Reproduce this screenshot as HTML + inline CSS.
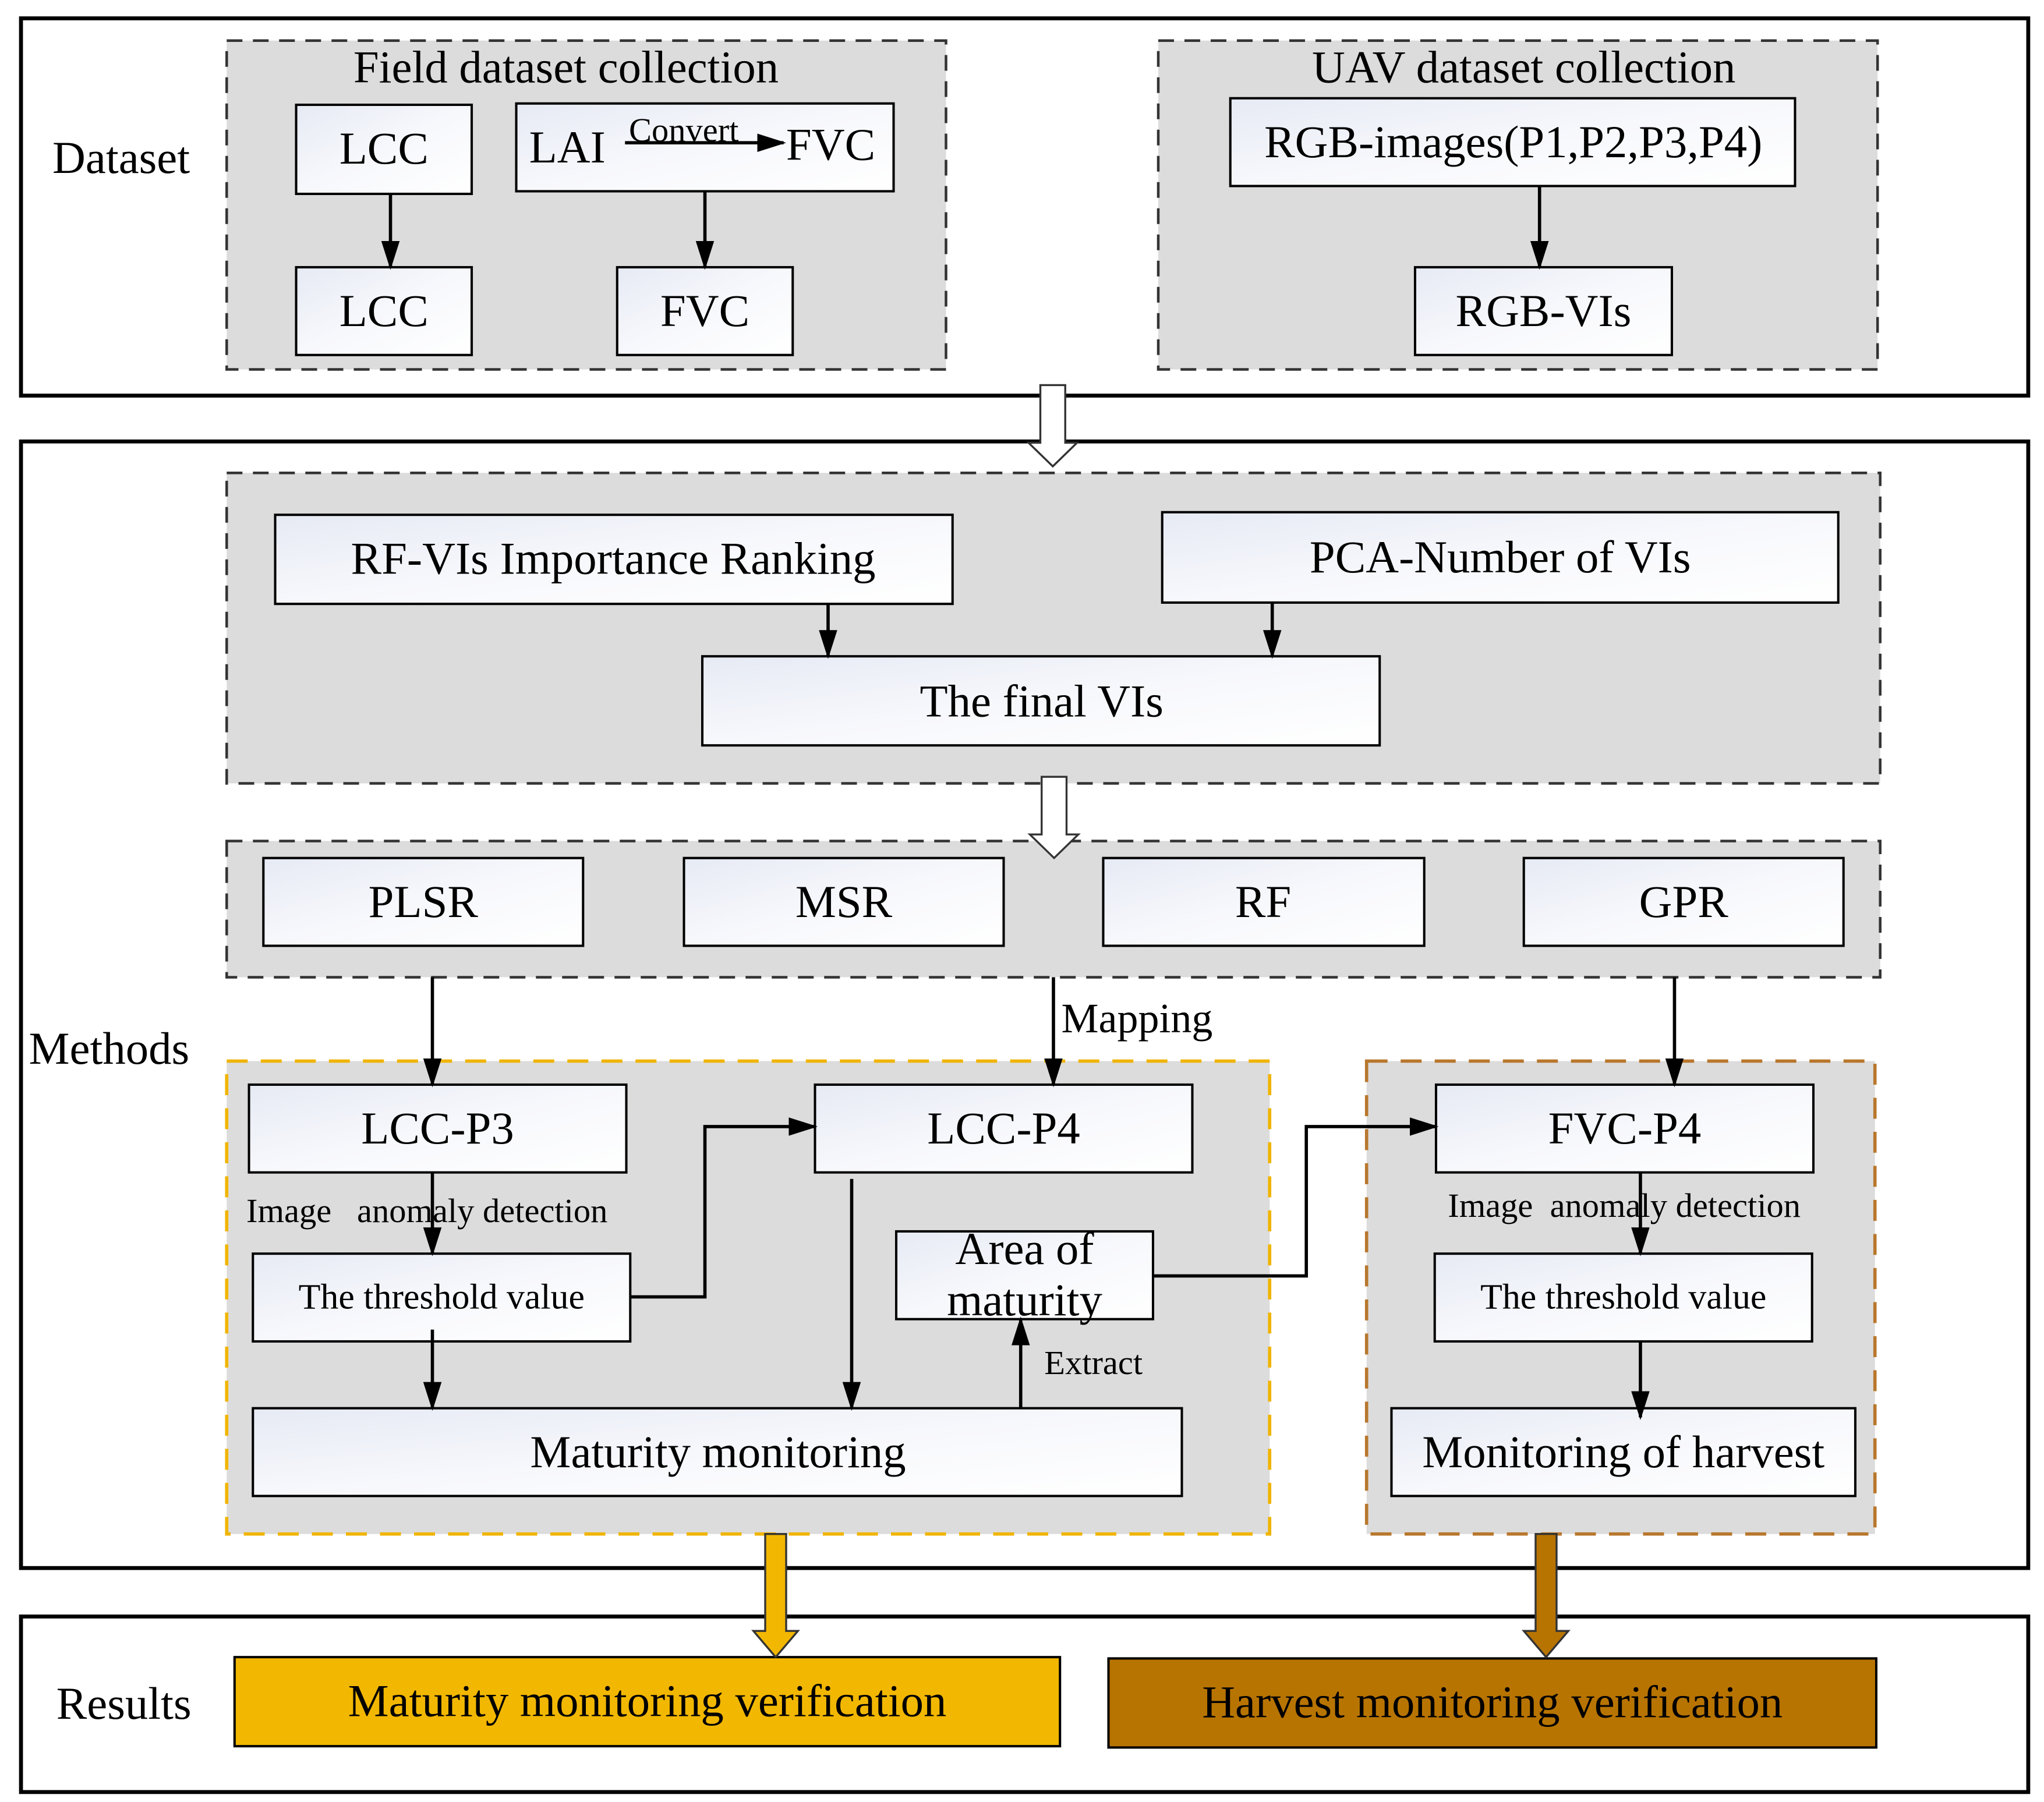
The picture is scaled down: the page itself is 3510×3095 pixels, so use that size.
<!DOCTYPE html>
<html><head><meta charset="utf-8"><style>html,body{margin:0;padding:0;background:#fff}svg{display:block}</style></head>
<body>
<svg xmlns="http://www.w3.org/2000/svg" width="3510" height="3095" viewBox="0 0 1560 1375.6" font-family="'Liberation Serif', serif">
<defs>
<linearGradient id="g" x1="0" y1="0" x2="1" y2="1"><stop offset="0" stop-color="#e6eaf4"/><stop offset="0.5" stop-color="#f7f8fc"/><stop offset="1" stop-color="#ffffff"/></linearGradient>
<marker id="b" markerWidth="22" markerHeight="14" refX="20" refY="7" orient="auto" markerUnits="userSpaceOnUse" viewBox="0 0 22 14"><path d="M0,0 L22,7 L0,14 Z" fill="#000"/></marker>
</defs>
<g fill="none" stroke="#000" stroke-width="3">
<rect x="16" y="14" width="1532" height="288"/>
<rect x="16" y="337" width="1532" height="860"/>
<rect x="16" y="1234" width="1532" height="134"/>
</g>
<g fill="#dcdcdc" stroke="#333" stroke-width="2" stroke-dasharray="12,8">
<rect x="173" y="31" width="549" height="251"/>
<rect x="884" y="31" width="549" height="251"/>
<rect x="173" y="361" width="1262" height="237"/>
<rect x="173" y="642" width="1262" height="104"/>
</g>
<rect x="173" y="810" width="796" height="361" fill="#dcdcdc" stroke="#f0b400" stroke-width="2.5" stroke-dasharray="16,10"/>
<rect x="1043" y="810" width="388" height="361" fill="#dcdcdc" stroke="#b8772c" stroke-width="2.5" stroke-dasharray="16,10"/>
<g fill="url(#g)" stroke="#000" stroke-width="1.8">
<rect x="226" y="80" width="134" height="68"/>
<rect x="394" y="79" width="288" height="67"/>
<rect x="226" y="204" width="134" height="67"/>
<rect x="471" y="204" width="134" height="67"/>
<rect x="939" y="75" width="431" height="67"/>
<rect x="1080" y="204" width="196" height="67"/>
<rect x="210" y="393" width="517" height="68"/>
<rect x="887" y="391" width="516" height="69"/>
<rect x="536" y="501" width="517" height="68"/>
<rect x="201" y="655" width="244" height="67"/>
<rect x="522" y="655" width="244" height="67"/>
<rect x="842" y="655" width="245" height="67"/>
<rect x="1163" y="655" width="244" height="67"/>
<rect x="190" y="828" width="288" height="67"/>
<rect x="622" y="828" width="288" height="67"/>
<rect x="193" y="957" width="288" height="67"/>
<rect x="684" y="940" width="196" height="67"/>
<rect x="193" y="1075" width="709" height="67"/>
<rect x="1096" y="828" width="288" height="67"/>
<rect x="1095" y="957" width="288" height="67"/>
<rect x="1062" y="1075" width="354" height="67"/>
</g>
<rect x="179" y="1265" width="630" height="68" fill="#f2b700" stroke="#000" stroke-width="1.8"/>
<rect x="846" y="1266" width="586" height="68" fill="#b87400" stroke="#000" stroke-width="1.8"/>
<path d="M794,294 L813,294 L813,338 L822,338 L803.5,356 L785,338 L794,338 Z" fill="#fff" stroke="#333" stroke-width="1.5"/>
<path d="M795,593 L814,593 L814,637 L823,637 L804.5,655 L786,637 L795,637 Z" fill="#fff" stroke="#333" stroke-width="1.5"/>
<path d="M584,1171 L600,1171 L600,1245 L609,1245 L592,1265 L575,1245 L584,1245 Z" fill="#f2b700" stroke="#333" stroke-width="1.5"/>
<path d="M1172,1171 L1188,1171 L1188,1245 L1197,1245 L1180,1265 L1163,1245 L1172,1245 Z" fill="#b87400" stroke="#333" stroke-width="1.5"/>
<g fill="none" stroke="#000" stroke-width="2.5" marker-end="url(#b)">
<line x1="298" y1="148" x2="298" y2="204"/>
<line x1="538" y1="146" x2="538" y2="204"/>
<line x1="1175" y1="142" x2="1175" y2="204"/>
<line x1="632" y1="461" x2="632" y2="501"/>
<line x1="971" y1="460" x2="971" y2="501"/>
<line x1="330" y1="746" x2="330" y2="828"/>
<line x1="804" y1="746" x2="804" y2="828"/>
<line x1="1278" y1="746" x2="1278" y2="828"/>
<line x1="330" y1="895" x2="330" y2="957"/>
<line x1="330" y1="1015" x2="330" y2="1075"/>
<polyline points="481,990 538,990 538,860 622,860"/>
<line x1="650" y1="900" x2="650" y2="1075"/>
<line x1="779" y1="1075" x2="779" y2="1007"/>
<polyline points="880,974 997,974 997,860 1096,860"/>
<line x1="1252" y1="895" x2="1252" y2="957"/>
<line x1="1252" y1="1024" x2="1252" y2="1082"/>
<line x1="477" y1="109" x2="598" y2="109"/>
</g>
<g font-size="35" text-anchor="middle" fill="#000">
<text x="432" y="63">Field dataset collection</text>
<text x="1163" y="63">UAV dataset collection</text>
<text x="293" y="125">LCC</text>
<text x="433" y="124">LAI</text>
<text x="634" y="122">FVC</text>
<text x="293" y="249">LCC</text>
<text x="538" y="249">FVC</text>
<text x="1155" y="120">RGB-images(P1,P2,P3,P4)</text>
<text x="1178" y="249">RGB-VIs</text>
<text x="468" y="438">RF-VIs Importance Ranking</text>
<text x="1145" y="437">PCA-Number of VIs</text>
<text x="795" y="547">The final VIs</text>
<text x="323" y="700">PLSR</text>
<text x="644" y="700">MSR</text>
<text x="964" y="700">RF</text>
<text x="1285" y="700">GPR</text>
<text x="334" y="873">LCC-P3</text>
<text x="766" y="873">LCC-P4</text>
<text x="1240" y="873">FVC-P4</text>
<text x="782" y="965">Area of</text>
<text x="782" y="1004">maturity</text>
<text x="548" y="1120">Maturity monitoring</text>
<text x="1239" y="1120">Monitoring of harvest</text>
<text x="494" y="1310">Maturity monitoring verification</text>
<text x="1139" y="1311">Harvest monitoring verification</text>
</g>
<g font-size="27.5" text-anchor="middle" fill="#000">
<text x="337" y="999">The threshold value</text>
<text x="1239" y="999">The threshold value</text>
</g>
<g font-size="26" fill="#000" style="white-space:pre">
<text x="480" y="108">Convert</text>
<text x="188" y="933" xml:space="preserve">Image   anomaly detection</text>
<text x="1105" y="929" xml:space="preserve">Image  anomaly detection</text>
<text x="797" y="1049">Extract</text>
</g>
<g font-size="35" fill="#000">
<text x="40" y="132">Dataset</text>
<text x="22" y="812">Methods</text>
<text x="43" y="1312">Results</text>
<text x="810" y="788" font-size="32">Mapping</text>
</g>
</svg>
</body></html>
